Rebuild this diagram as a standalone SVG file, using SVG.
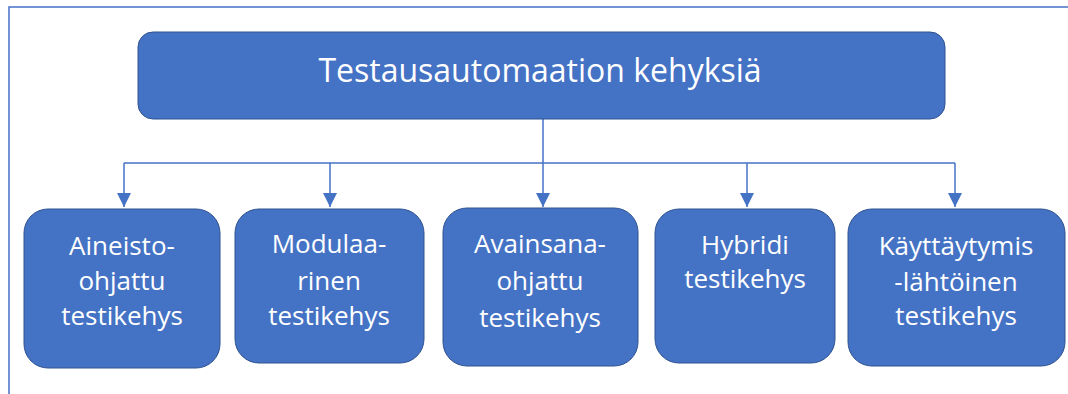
<svg xmlns="http://www.w3.org/2000/svg" width="1068" height="394" viewBox="0 0 1068 394">
  <style>
    .node { fill: #4472C4; stroke: #2F528F; stroke-width: 1; }
    .label { fill: #FFFFFF; font-family: "Open Sans", "Noto Sans", sans-serif; text-anchor: middle; }
    .title { font-size: 32px; }
    .sub { font-size: 26px; }
    .wire { fill: none; stroke: #4472C4; stroke-width: 1.5; }
    .frame { fill: none; stroke: #4472C4; stroke-width: 1.5; }
  </style>
  <defs>
    <marker id="arrow" viewBox="0 0 14 14" refX="14" refY="7" markerWidth="14" markerHeight="14" markerUnits="userSpaceOnUse" orient="auto">
      <path d="M0,0 L14,7 L0,14 Z" fill="#4472C4"/>
    </marker>
  </defs>

  <rect width="1068" height="394" fill="#FFFFFF"/>
  <path class="frame" d="M9,394 V7 H1068"/>

  <g id="connectors">
    <path class="wire" d="M543,119 V207" marker-end="url(#arrow)"/>
    <path class="wire" d="M124,163 H955"/>
    <path class="wire" d="M124,163 V207" marker-end="url(#arrow)"/>
    <path class="wire" d="M330,163 V207" marker-end="url(#arrow)"/>
    <path class="wire" d="M747,163 V207" marker-end="url(#arrow)"/>
    <path class="wire" d="M955,163 V207" marker-end="url(#arrow)"/>
  </g>

  <g id="root">
    <rect class="node" x="138" y="32" width="807" height="87" rx="15"/>
    <text class="label title" x="540" y="82">Testausautomaation kehyksiä</text>
  </g>

  <g id="aineisto">
    <rect class="node" x="24" y="209" width="196" height="159" rx="24"/>
    <text class="label sub" x="122"><tspan x="122" y="255">Aineisto-</tspan><tspan x="122" y="290">ohjattu</tspan><tspan x="122" y="325">testikehys</tspan></text>
  </g>

  <g id="modulaarinen">
    <rect class="node" x="235" y="209" width="189" height="154" rx="24"/>
    <text class="label sub" x="329"><tspan x="329" y="253">Modulaa-</tspan><tspan x="329" y="290">rinen</tspan><tspan x="329" y="325">testikehys</tspan></text>
  </g>

  <g id="avainsana">
    <rect class="node" x="443" y="208" width="195" height="158" rx="24"/>
    <text class="label sub" x="540"><tspan x="540" y="253">Avainsana-</tspan><tspan x="540" y="290">ohjattu</tspan><tspan x="540" y="327">testikehys</tspan></text>
  </g>

  <g id="hybridi">
    <rect class="node" x="655" y="209" width="180" height="154" rx="24"/>
    <text class="label sub" x="745"><tspan x="745" y="254">Hybridi</tspan><tspan x="745" y="288">testikehys</tspan></text>
  </g>

  <g id="kayttaytymis">
    <rect class="node" x="848" y="209" width="217" height="157" rx="24"/>
    <text class="label sub" x="956"><tspan x="956" y="255">Käyttäytymis</tspan><tspan x="956" y="291">-lähtöinen</tspan><tspan x="956" y="325">testikehys</tspan></text>
  </g>
</svg>
